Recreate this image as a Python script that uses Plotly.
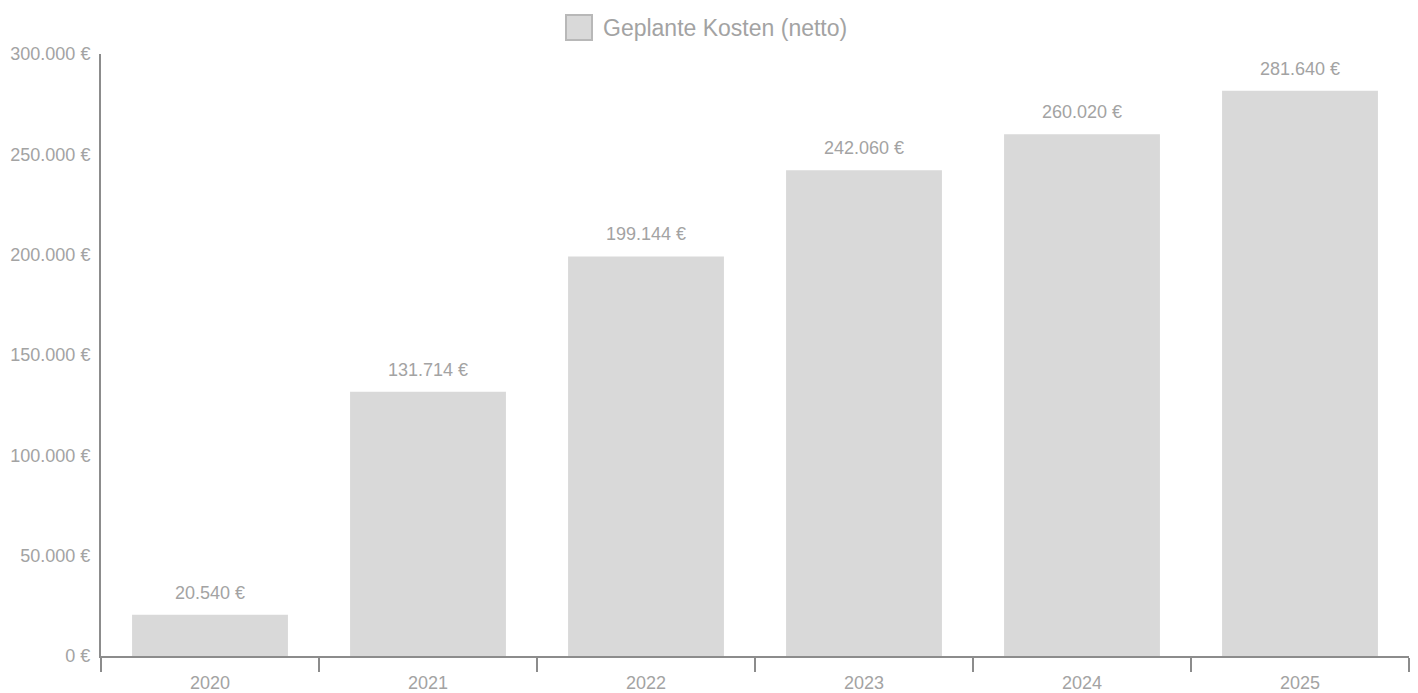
import plotly.graph_objects as go

# Planned net costs per year
years = ["2020", "2021", "2022", "2023", "2024", "2025"]
costs = [20540, 131714, 199144, 242060, 260020, 281640]
series_name = "Geplante Kosten (netto)"
y_ticks = [0, 50000, 100000, 150000, 200000, 250000, 300000]


def euro(v):
    return f"{v:,.0f} €".replace(",", ".")


bar_color = "#d9d9d9"
text_color = "#a3a3a3"
axis_color = "#8c8c8c"
font_family = "Liberation Sans, Arial, sans-serif"
small_font = dict(family=font_family, size=18, color=text_color)

fig = go.Figure()
fig.add_trace(go.Bar(
    x=years,
    y=costs,
    name=series_name,
    marker=dict(color=bar_color, line=dict(width=0)),
    width=0.715,
    showlegend=False,
    hovertemplate="%{x}: %{customdata}<extra></extra>",
    customdata=[euro(v) for v in costs],
))

# value labels above each bar (category index positions)
for i, val in enumerate(costs):
    fig.add_annotation(
        x=i, y=val, xref="x", yref="y",
        text=euro(val),
        showarrow=False, yanchor="bottom", yshift=10,
        font=small_font,
    )

# legend entry drawn as a swatch plus label above the plot
fig.add_shape(
    type="rect", xref="paper", yref="paper",
    x0=(566 - 101) / 1308, x1=(592 - 101) / 1308,
    y0=(656 - 40) / 602, y1=(656 - 15) / 602,
    fillcolor=bar_color, line=dict(color="#b8b8b8", width=2),
)
fig.add_annotation(
    xref="paper", yref="paper",
    x=(601 - 101) / 1308, y=(656 - 28) / 602,
    xanchor="left", yanchor="middle",
    text=series_name, showarrow=False,
    font=dict(family=font_family, size=23, color=text_color),
)

fig.update_layout(
    width=1418, height=693,
    margin=dict(l=101, r=9, t=54, b=37),
    plot_bgcolor="white", paper_bgcolor="white",
    font=small_font,
    bargap=0.28,
)
fig.update_xaxes(
    type="category",
    range=[-0.5, len(years) - 0.5],
    automargin=False,
    showline=True, linecolor=axis_color, linewidth=2,
    ticks="outside", tickson="boundaries", ticklen=14, tickwidth=2, tickcolor=axis_color,
    ticklabelstandoff=9,
    showgrid=False, zeroline=False,
    tickfont=small_font,
)
fig.update_yaxes(
    range=[0, 300000],
    automargin=False,
    tickvals=y_ticks,
    ticktext=[euro(v) for v in y_ticks],
    showline=True, linecolor=axis_color, linewidth=2,
    ticks="", ticklabelstandoff=5,
    showgrid=False, zeroline=False,
    tickfont=small_font,
)

fig.write_html("out.html")
